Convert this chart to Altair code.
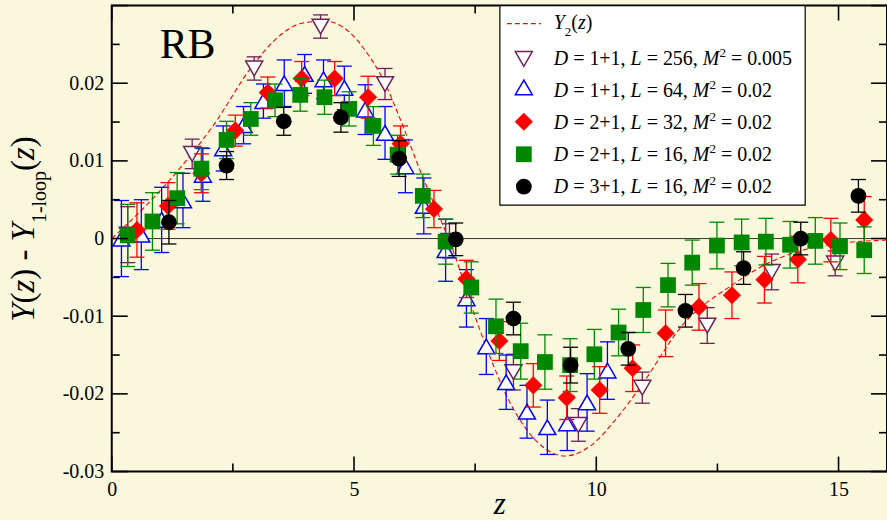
import altair as alt
import pandas as pd

CREAM = "#FAF8DC"
SERIF = "Liberation Serif"

# ---------------- data ----------------
# Y_2(z): second-order curve (dashed)
curve_z = [0, 0.7, 1.4, 2.1, 2.9, 3.5, 3.9, 4.4, 4.9, 5.3, 5.6, 5.9, 6.4, 6.75, 7.0,
           7.6, 8.25, 8.8, 9.35, 9.9, 10.4, 10.9, 11.8, 12.8, 13.6, 14.8, 16.0]
curve_y = [0.0, 0.0042, 0.0090, 0.0146, 0.0222, 0.0263, 0.0277, 0.0280, 0.0266, 0.0236,
           0.0205, 0.0162, 0.0082, 0.0030, -0.0008, -0.0118, -0.0215, -0.0263, -0.0280,
           -0.0266, -0.0233, -0.0192, -0.0110, -0.0060, -0.0030, -0.0008, -0.0002]

# D = 1+1, L = 256, M^2 = 0.005
d11_256_z = [0.33, 1.66, 2.94, 4.31, 5.64, 6.97, 8.29, 9.63, 10.95, 12.29, 13.62, 14.93]
d11_256_y = [0.0005, 0.0109, 0.0219, 0.0273, 0.0199, -0.0003, -0.0172, -0.0240, -0.0192,
             -0.0112, -0.0043, -0.0032]
d11_256_e = [0.0036, 0.0019, 0.0015, 0.0015, 0.0020, 0.0022, 0.0023, 0.0021, 0.0020,
             0.0023, 0.0023, 0.0016]

# D = 1+1, L = 64, M^2 = 0.02
d11_64_z = [0.20, 0.61, 1.03, 1.47, 1.88, 2.30, 2.72, 3.13, 3.56, 3.98, 4.37, 4.80, 5.23,
            5.64, 6.06, 6.44, 6.89, 7.32, 7.73, 8.14, 8.57, 8.99, 9.40, 9.81, 10.23]
d11_64_y = [0.0000, 0.0005, 0.0024, 0.0049, 0.0082, 0.0116, 0.0146, 0.0177, 0.0200, 0.0212,
            0.0205, 0.0194, 0.0166, 0.0136, 0.0093, 0.0042, -0.0015, -0.0077, -0.0139,
            -0.0185, -0.0223, -0.0243, -0.0238, -0.0211, -0.0170]
d11_64_e = [0.0049, 0.0045, 0.0042, 0.0035, 0.0034, 0.0029, 0.0024, 0.0022, 0.0030, 0.0025,
            0.0025, 0.0028, 0.0032, 0.0034, 0.0034, 0.0036, 0.0040, 0.0037, 0.0036, 0.0035,
            0.0034, 0.0035, 0.0035, 0.0037, 0.0037]

# D = 2+1, L = 32, M^2 = 0.02
d21_32_z = [0.52, 1.16, 1.85, 2.55, 3.22, 3.92, 4.60, 5.29, 5.96, 6.65, 7.32, 8.00, 8.70,
            9.39, 10.07, 10.75, 11.43, 12.12, 12.80, 13.47, 14.16, 14.84, 15.53]
d21_32_y = [0.0011, 0.0042, 0.0084, 0.0139, 0.0188, 0.0206, 0.0206, 0.0182, 0.0122, 0.0038,
            -0.0052, -0.0132, -0.0189, -0.0205, -0.0195, -0.0167, -0.0122, -0.0088,
            -0.0073, -0.0053, -0.0027, -0.0002, 0.0024]
d21_32_e = [0.0035, 0.0030, 0.0025, 0.0020, 0.0020, 0.0022, 0.0022, 0.0027, 0.0023, 0.0024,
            0.0024, 0.0025, 0.0028, 0.0028, 0.0030, 0.0030, 0.0030, 0.0030, 0.0030, 0.0030,
            0.0030, 0.0028, 0.0030]

# D = 2+1, L = 16, M^2 = 0.02
d21_16_z = [0.33, 0.84, 1.35, 1.85, 2.37, 2.87, 3.37, 3.89, 4.39, 4.90, 5.40, 5.90, 6.42,
            6.89, 7.42, 7.93, 8.44, 8.94, 9.46, 9.96, 10.46, 10.97, 11.48, 11.98, 12.49,
            13.00, 13.50, 14.00, 14.52, 15.03, 15.53]
d21_16_y = [0.0004, 0.0022, 0.0052, 0.0090, 0.0127, 0.0154, 0.0178, 0.0185, 0.0182, 0.0167,
            0.0145, 0.0108, 0.0055, -0.0004, -0.0063, -0.0113, -0.0145, -0.0159, -0.0163,
            -0.0149, -0.0121, -0.0092, -0.0060, -0.0031, -0.0009, -0.0005, -0.0004,
            -0.0008, -0.0003, -0.0010, -0.0015]
d21_16_e = [0.0040, 0.0037, 0.0033, 0.0027, 0.0024, 0.0021, 0.0021, 0.0021, 0.0022, 0.0022,
            0.0025, 0.0025, 0.0028, 0.0029, 0.0033, 0.0035, 0.0036, 0.0035, 0.0034, 0.0032,
            0.0030, 0.0029, 0.0028, 0.0029, 0.0030, 0.0030, 0.0030, 0.0030, 0.0030, 0.0030,
            0.0030]

# D = 3+1, L = 16, M^2 = 0.02
d31_16_z = [1.18, 2.37, 3.55, 4.73, 5.93, 7.10, 8.29, 9.47, 10.66, 11.84, 13.04, 14.22, 15.41]
d31_16_y = [0.0021, 0.0094, 0.0151, 0.0156, 0.0103, -0.0001, -0.0103, -0.0163, -0.0142,
            -0.0093, -0.0038, 0.0000, 0.0055]
d31_16_e = [0.0028, 0.0018, 0.0018, 0.0019, 0.0023, 0.0021, 0.0021, 0.0023, 0.0021, 0.0021,
            0.0021, 0.0021, 0.0021]

# legend label parts
legend_dim = ["1+1", "1+1", "2+1", "2+1", "3+1"]
legend_L = ["256", "64", "32", "16", "16"]
legend_M2 = ["0.005", "0.02", "0.02", "0.02", "0.02"]

# axis tick values
x_major = [0, 5, 10, 15]
x_minor = [2.5, 7.5, 12.5]
y_labels = [-0.03, -0.02, -0.01, 0.0, 0.01, 0.02]
y_major = [-0.03, -0.02, -0.01, 0.0, 0.01, 0.02, 0.03]
y_minor = [-0.025, -0.015, -0.005, 0.005, 0.015, 0.025]

# ---------------- styling ----------------
W, H = 777, 467          # plot area
OX, OY = 112, 5          # plot origin on the page

SERIES = [
    dict(z=d11_256_z, y=d11_256_y, e=d11_256_e, color="#6E1F5C", shape="triangle-down",
         fill="white", size=290, sw=1.5),
    dict(z=d11_64_z, y=d11_64_y, e=d11_64_e, color="#0000FF", shape="triangle-up",
         fill="white", size=290, sw=1.5),
    dict(z=d21_32_z, y=d21_32_y, e=d21_32_e, color="#FF0000", shape="diamond",
         fill="#FF0000", size=330, sw=0),
    dict(z=d21_16_z, y=d21_16_y, e=d21_16_e, color="#008800", shape="square",
         fill="#008800", size=250, sw=0),
    dict(z=d31_16_z, y=d31_16_y, e=d31_16_e, color="#000000", shape="circle",
         fill="#000000", size=250, sw=0),
]

XS = alt.Scale(domain=[0, 16], nice=False, zero=False)
YS = alt.Scale(domain=[-0.03, 0.03], nice=False, zero=False)
X_AXIS = alt.Axis(values=x_major, title=None, ticks=False, tickSize=0, domain=False,
                  grid=False, labelFont=SERIF, labelFontSize=20, labelColor="black",
                  labelPadding=8, labelFlush=False, labelOverlap=False, format="d")
Y_AXIS = alt.Axis(values=y_labels, title=None, ticks=False, tickSize=0, domain=False,
                  grid=False, labelFont=SERIF, labelFontSize=20, labelColor="black",
                  labelPadding=8, labelFlush=False, labelOverlap=False,
                  labelExpr="abs(datum.value) < 1e-9 ? '0' : (datum.value < 0 ? '-' : '') + format(abs(datum.value), '.2f')")


def X(field):
    return alt.X(field, type="quantitative", scale=XS, axis=X_AXIS)


def Y(field):
    return alt.Y(field, type="quantitative", scale=YS, axis=Y_AXIS)


# ---------------- text layout helpers ----------------
ROMAN_W = {" ": 250, "=": 564, "+": 564, ",": 250, ".": 250, "-": 333, "(": 333, ")": 333,
           "l": 278, "o": 500, "p": 500, "R": 667, "B": 667}
ITALIC_W = {"D": 722, "L": 556, "M": 833, "Y": 556, "z": 389, " ": 250}


def advance(s, italic, size):
    table = ITALIC_W if italic else ROMAN_W
    return sum(table.get(c, 500) for c in s) * size / 1000.0


def place(pieces, x0, y0, vertical=False):
    rows, pos = [], 0.0
    for text, italic, size, shift in pieces:
        lead = len(text) - len(text.lstrip(" "))
        off = pos + advance(text[:lead], italic, size)
        if vertical:
            rows.append(dict(text=text.strip(" "), px=x0 + shift, py=y0 - off, size=size,
                             italic=italic, vertical=True))
        else:
            rows.append(dict(text=text.strip(" "), px=x0 + off, py=y0 + shift, size=size,
                             italic=italic, vertical=False))
        pos += advance(text, italic, size)
    return rows


texts = []
# y-axis title:  Y(z) - Y_{1-loop}(z)
texts += place([("Y", True, 33, 0), ("(", False, 33, 0), ("z", True, 33, 0),
                (") - ", False, 33, 0), ("Y", True, 33, 0), ("1-loop", False, 20, 11.5),
                ("(", False, 33, 0), ("z", True, 33, 0), (")", False, 33, 0)],
               34.5 - OX, 322 - OY, vertical=True)
# legend: Y_2(z)
texts += place([("Y", True, 20, 0), ("2", False, 13, 6.5), ("(", False, 20, 0),
                ("z", True, 20, 0), (")", False, 20, 0)], 555 - OX, 28.5 - OY)
# legend: lattice runs
row_base = [65, 97, 129, 161, 193]
for dim, L, m2, base in zip(legend_dim, legend_L, legend_M2, row_base):
    texts += place([("D", True, 20, 0), (f" = {dim}, ", False, 20, 0), ("L", True, 20, 0),
                    (f" = {L}, ", False, 20, 0), ("M", True, 20, 0), ("2", False, 13, -8),
                    (f" = {m2}", False, 20, 0)], 555 - OX, base - OY)
texts = pd.DataFrame(texts)

layers = []

# zero line
layers.append(alt.Chart(pd.DataFrame({"y": [0.0]})).mark_rule(
    color="#333333", strokeWidth=1).encode(y=Y("y")))

# Y_2(z) dashed curve
layers.append(alt.Chart(pd.DataFrame({"z": curve_z, "y": curve_y})).mark_line(
    color="#FF0000", strokeWidth=1.1, strokeDash=[5, 3], interpolate="monotone",
    clip=True).encode(x=X("z"), y=Y("y")))

# lattice series: error bars, caps, symbols
for s in SERIES:
    df = pd.DataFrame({"z": s["z"], "y": s["y"], "e": s["e"]})
    df["lo"] = df["y"] - df["e"]
    df["hi"] = df["y"] + df["e"]
    base = alt.Chart(df)
    layers.append(base.mark_rule(color=s["color"], strokeWidth=1.3).encode(
        x=X("z"), y=Y("lo"), y2=alt.Y2("hi")))
    for end in ("lo", "hi"):
        layers.append(base.mark_tick(orient="horizontal", size=15, thickness=1.3,
                                     color=s["color"], opacity=1).encode(
            x=X("z"), y=Y(end)))
    layers.append(base.mark_point(shape=s["shape"], filled=True, fill=s["fill"],
                                  stroke=s["color"], strokeWidth=s["sw"], size=s["size"],
                                  opacity=1).encode(x=X("z"), y=Y("y")))

# inward ticks on all four sides
for vals, ln in ((x_major, 15), (x_minor, 8)):
    d = alt.Chart(pd.DataFrame({"z": vals}))
    layers.append(d.mark_rule(color="black", strokeWidth=1.6).encode(
        x=X("z"), y=alt.value(H - ln), y2=alt.value(H)))
    layers.append(d.mark_rule(color="black", strokeWidth=1.6).encode(
        x=X("z"), y=alt.value(0), y2=alt.value(ln)))
for vals, ln in ((y_major, 16), (y_minor, 8)):
    d = alt.Chart(pd.DataFrame({"y": vals}))
    layers.append(d.mark_rule(color="black", strokeWidth=1.6).encode(
        y=Y("y"), x=alt.value(0), x2=alt.value(ln)))
    layers.append(d.mark_rule(color="black", strokeWidth=1.6).encode(
        y=Y("y"), x=alt.value(W - ln), x2=alt.value(W)))

one = alt.Chart(pd.DataFrame({"k": [0]}))

# legend box
layers.append(one.mark_rect(fill="white", stroke="black", strokeWidth=1.2).encode(
    x=alt.value(501 - OX), x2=alt.value(807 - OX), y=alt.value(0), y2=alt.value(205 - OY)))
layers.append(one.mark_rule(stroke="#FF0000", color="#FF0000", strokeWidth=1.2,
                            strokeDash=[5, 3]).encode(
    x=alt.value(508 - OX), x2=alt.value(542 - OX), y=alt.value(23 - OY)))
sym_y = [58.5, 87, 121.5, 154, 186.5]
for s, sy in zip(SERIES, sym_y):
    layers.append(one.mark_point(shape=s["shape"], filled=True, fill=s["fill"],
                                 stroke=s["color"], strokeWidth=s["sw"], size=s["size"],
                                 opacity=1).encode(x=alt.value(525 - OX), y=alt.value(sy - OY)))

# text pieces (legend labels and y title)
for italic in (False, True):
    for vertical in (False, True):
        part = texts[(texts["italic"] == italic) & (texts["vertical"] == vertical)]
        if part.empty:
            continue
        layers.append(alt.Chart(part).mark_text(
            align="left", baseline="alphabetic", font=SERIF, color="black",
            fontStyle="italic" if italic else "normal", angle=270 if vertical else 0
        ).encode(x=alt.X("px:Q", scale=None, axis=None),
                 y=alt.Y("py:Q", scale=None, axis=None),
                 text="text:N",
                 size=alt.Size("size:Q", scale=None, legend=None)))

# panel tag and x title
layers.append(one.mark_text(text="RB", align="left", baseline="alphabetic", font=SERIF,
                            fontSize=42, color="black").encode(
    x=alt.value(160 - OX), y=alt.value(58 - OY)))
layers.append(one.mark_text(text="z", align="center", baseline="alphabetic", font=SERIF,
                            fontStyle="italic", fontSize=31, color="black").encode(
    x=alt.value(501 - OX), y=alt.value(515 - OY)))

chart = alt.layer(*layers).properties(
    width=W, height=H,
    autosize=alt.AutoSizeParams(type="none"),
    padding={"left": OX, "top": OY, "right": 0, "bottom": 520 - OY - H},
    background=CREAM,
).configure_view(stroke="black", strokeWidth=2, fill=CREAM
).configure_axis(labelFont=SERIF, labelFontSize=20, labelColor="black")

chart.save("out.html", embed_options={"renderer": "svg", "actions": False})
